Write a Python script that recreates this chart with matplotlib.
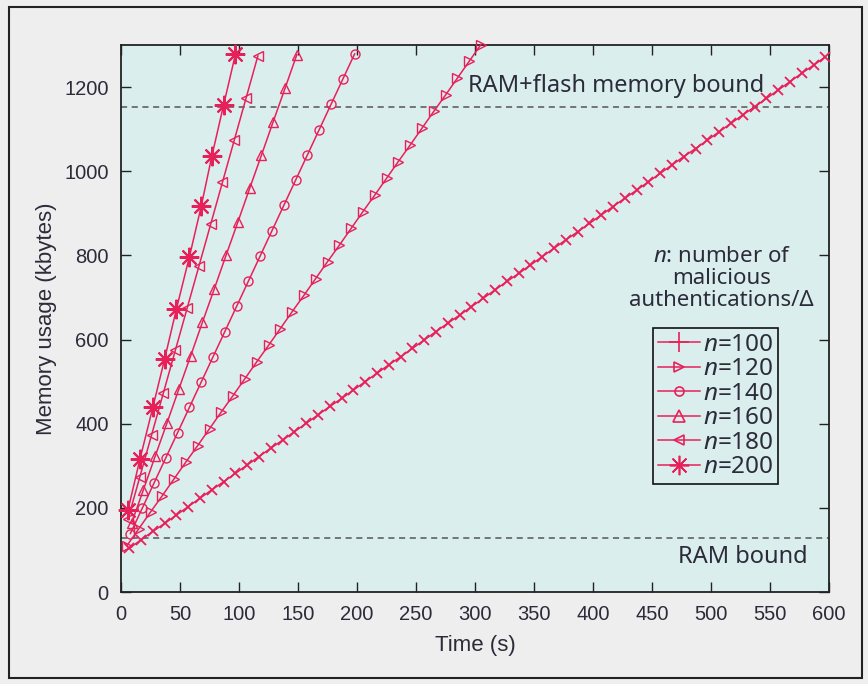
import matplotlib
matplotlib.use("Agg")
import matplotlib.pyplot as plt
from matplotlib.lines import Line2D
from matplotlib.patches import Rectangle

# ---------------- data ----------------
t_100 = [7, 17, 27, 37, 47, 57, 67, 77, 87, 97, 107, 117, 127, 137, 147, 157, 167, 177, 187, 197,
         207, 217, 227, 237, 247, 257, 267, 277, 287, 297, 307, 317, 327, 337, 347, 357, 367, 377, 387, 397,
         407, 417, 427, 437, 447, 457, 467, 477, 487, 497, 507, 517, 527, 537, 547, 557, 567, 577, 587, 597]
m_100 = [104, 124, 144, 163, 183, 203, 223, 243, 262, 282, 302, 322, 342, 361, 381, 401, 421, 441, 460, 480,
         500, 520, 540, 559, 579, 599, 619, 639, 658, 678, 698, 718, 738, 757, 777, 797, 817, 837, 856, 876,
         896, 916, 936, 955, 975, 995, 1015, 1035, 1054, 1074, 1094, 1114, 1134, 1153, 1173, 1193, 1213, 1233, 1252, 1272]

t_120 = [5, 15, 25, 35, 45, 55, 65, 75, 85, 95, 105, 115, 125, 135, 145, 155, 165, 175, 185, 195,
         205, 215, 225, 235, 245, 255, 265, 275, 285, 295, 305]
m_120 = [110, 150, 190, 229, 269, 309, 348, 388, 428, 467, 507, 547, 586, 626, 666, 705, 745, 785, 824, 864,
         904, 943, 983, 1023, 1062, 1102, 1142, 1181, 1221, 1261, 1301]

t_140 = [8, 18, 28, 38, 48, 58, 68, 78, 88, 98, 108, 118, 128, 138, 148, 158, 168, 178, 188, 198]
m_140 = [139, 199, 259, 319, 379, 439, 499, 559, 619, 679, 739, 799, 859, 919, 979, 1039, 1099, 1159, 1219, 1279]

t_160 = [9, 19, 29, 39, 49, 59, 69, 79, 89, 99, 109, 119, 129, 139, 149]
m_160 = [164, 243, 323, 402, 482, 561, 641, 720, 800, 879, 959, 1038, 1118, 1197, 1277]

t_180 = [6, 16, 26, 36, 46, 56, 66, 76, 86, 96, 106, 116]
m_180 = [174, 274, 374, 474, 574, 674, 774, 874, 974, 1074, 1174, 1274]

t_200 = [6, 16, 27, 37, 47, 58, 68, 77, 87, 97]
m_200 = [196, 315, 439, 554, 673, 797, 917, 1036, 1158, 1278]

series_labels = ["100", "120", "140", "160", "180", "200"]
ram_bound = 128
flash_bound = 1152
x_ticks = [0, 50, 100, 150, 200, 250, 300, 350, 400, 450, 500, 550, 600]
y_ticks = [0, 200, 400, 600, 800, 1000, 1200]

# ---------------- style ----------------
RED = "#e8205a"
TXT = "#2b2b3a"
narrow = ["Liberation Sans", "DejaVu Sans"]
regular = ["Noto Sans", "DejaVu Sans"]

plt.rcParams["mathtext.fontset"] = "custom"
plt.rcParams["mathtext.it"] = "Noto Sans:italic"
plt.rcParams["mathtext.rm"] = "Noto Sans"

fig = plt.figure(figsize=(8.68, 6.84), dpi=100, facecolor="#efeeee")
ax = fig.add_axes([121 / 868, 1 - 592 / 684, (829 - 121) / 868, (592 - 45) / 684])
ax.set_facecolor("#dbeeee")

# outer frame of the figure
fig.patches.append(Rectangle((9 / 868, 1 - 678 / 684), (862 - 9) / 868, (678 - 7) / 684,
                             transform=fig.transFigure, fill=False, edgecolor="#222222",
                             linewidth=1.5, zorder=0))

ax.axhline(flash_bound, color="#555555", linestyle=(0, (4, 3)), linewidth=1.1, zorder=1)
ax.axhline(ram_bound, color="#555555", linestyle=(0, (4, 3)), linewidth=1.1, zorder=1)

common = dict(color=RED, linewidth=1.1, clip_on=False, zorder=3)
ax.plot(t_100, m_100, marker="x", markersize=7.5, markeredgewidth=1.3, **common)
ax.plot(t_120, m_120, marker=">", markersize=7, markerfacecolor="none", markeredgewidth=1.0, **common)
ax.plot(t_140, m_140, marker="o", markersize=6.5, markerfacecolor="none", markeredgewidth=1.0, **common)
ax.plot(t_160, m_160, marker="^", markersize=7.5, markerfacecolor="none", markeredgewidth=1.0, **common)
ax.plot(t_180, m_180, marker="<", markersize=7.5, markerfacecolor="none", markeredgewidth=1.0, **common)
ax.plot(t_200, m_200, marker=(8, 2, 0), markersize=14, markeredgewidth=1.5, **common)

ax.set_xlim(0, 600)
ax.set_ylim(0, 1300)
ax.set_xticks(x_ticks)
ax.set_yticks(y_ticks)
ax.tick_params(direction="in", length=7, width=1, top=True, right=True,
               colors="#222222", labelcolor=TXT, labelsize=14.5)
ax.tick_params(axis="x", pad=9)
ax.tick_params(axis="y", pad=9)
for lab in ax.get_xticklabels() + ax.get_yticklabels():
    lab.set_family(narrow)
for s in ax.spines.values():
    s.set_linewidth(1.3)
    s.set_color("#222222")

ax.set_xlabel("Time (s)", fontsize=16, family=narrow, color=TXT, labelpad=8)
ax.set_ylabel("Memory usage (kbytes)", fontsize=16, family=narrow, color=TXT, labelpad=5)

ax.text(545, 1203, "RAM+flash memory bound", ha="right", va="center", fontsize=17,
        family=regular, color=TXT, zorder=4)
ax.text(582, 83, "RAM bound", ha="right", va="center", fontsize=17,
        family=regular, color=TXT, zorder=4)
ax.text(509, 745, "$n$: number of\nmalicious\nauthentications/\u0394", ha="center", va="center",
        fontsize=16, family=regular, color=TXT, linespacing=1.08, zorder=4)

handle_markers = ["+", ">", "o", "^", "<", (8, 2, 0)]
handle_sizes = [14, 7.5, 6.5, 8, 7.5, 14]
handles = []
for mk, ms in zip(handle_markers, handle_sizes):
    filled = mk in ("+", (8, 2, 0))
    handles.append(Line2D([], [], color=RED, linewidth=1.1, marker=mk, markersize=ms,
                          markerfacecolor=RED if filled else "none", markeredgewidth=1.2))
leg = ax.legend(handles, ["$n$=" + s for s in series_labels],
                loc="upper left", bbox_to_anchor=(653 / 868, 1 - 328 / 684),
                bbox_transform=fig.transFigure, borderaxespad=0, fancybox=False,
                framealpha=1, facecolor="#dbeeee", edgecolor="#111111",
                prop={"family": regular, "size": 17.5}, handlelength=1.75,
                handletextpad=0.1, labelspacing=0.02, borderpad=0.2)
leg.get_frame().set_linewidth(1.2)
for txt in leg.get_texts():
    txt.set_color(TXT)

fig.savefig("out.png", dpi=100, facecolor=fig.get_facecolor())
